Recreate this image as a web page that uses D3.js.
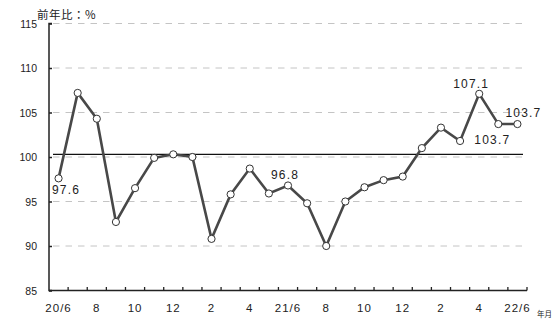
<!DOCTYPE html>
<html>
<head>
<meta charset="utf-8">
<script src="https://cdn.jsdelivr.net/npm/d3@7"></script>
<style>
  body { margin: 0; background: #fff; }
  svg { display: block; font-family: "Liberation Sans", Arial, sans-serif; }
</style>
</head>
<body>
<svg id="chart" width="556" height="319"></svg>
<script>
// monthly year-on-year ratio, 2020/6 .. 2022/6
const months = [
  '20/6', '20/7', '20/8', '20/9', '20/10', '20/11', '20/12',
  '21/1', '21/2', '21/3', '21/4', '21/5', '21/6', '21/7', '21/8',
  '21/9', '21/10', '21/11', '21/12', '22/1', '22/2', '22/3', '22/4',
  '22/5', '22/6',
];
const ratio = [
  97.6, 107.2, 104.3, 92.7, 96.5, 99.9, 100.3,
  100.0, 90.8, 95.8, 98.7, 95.9, 96.8, 94.8, 90.0,
  95.0, 96.6, 97.4, 97.8, 101.0, 103.3, 101.8, 107.1,
  103.7, 103.7,
];
const tickLabels = ['20/6', '8', '10', '12', '2', '4', '21/6', '8', '10', '12', '2', '4', '22/6'];
const yTicks = [85, 90, 95, 100, 105, 110, 115];
const gridValues = [90, 95, 100, 105, 110, 115];
const refValue = 100.3; // the solid 100 line sits a touch above the dashed grid
// annotated points: index, label offset
const callouts = [
  { i: 0, dx: 7.5, dy: 11.5 },
  { i: 12, dx: -3, dy: -10.5 },
  { i: 22, dx: -8, dy: -10.5 },
  { i: 23, dx: -6, dy: 15.5 },
  { i: 24, dx: 6, dy: -11.5 },
];

const svg = d3.select('#chart');
const margin = { left: 49, right: 29, top: 23.5, bottom: 28.5 };
const width = 556, height = 319;

const x = d3.scaleBand().domain(months).range([margin.left, width - margin.right]);
const y = d3.scaleLinear().domain([85, 115]).range([height - margin.bottom, margin.top]);
const cx = (m) => x(m) + x.bandwidth() / 2;

// dashed grid
svg.append('g')
  .selectAll('line')
  .data(gridValues)
  .join('line')
  .attr('x1', margin.left + 4)
  .attr('x2', width - margin.right - 2)
  .attr('y1', (d) => y(d))
  .attr('y2', (d) => y(d))
  .attr('stroke', '#c4c4c4')
  .attr('stroke-width', 1)
  .attr('stroke-dasharray', '6.5,6');

// reference line at 100
svg.append('line')
  .attr('x1', margin.left + 4)
  .attr('x2', width - margin.right - 4)
  .attr('y1', y(refValue))
  .attr('y2', y(refValue))
  .attr('stroke', '#111')
  .attr('stroke-width', 1.3);

// y axis
const yAxis = svg.append('g')
  .attr('transform', `translate(${margin.left},0)`)
  .call(d3.axisRight(y).tickValues(yTicks).tickSize(3).tickFormat(''));
yAxis.select('.domain').attr('d', `M3,${y(85)}H0V${y(115)}H3`).attr('stroke', '#222').attr('stroke-width', 1.5);
yAxis.selectAll('.tick line').attr('stroke', '#222').attr('stroke-width', 1.5);

svg.append('g')
  .selectAll('text')
  .data(yTicks)
  .join('text')
  .attr('x', 37)
  .attr('y', (d) => y(d) + 4)
  .attr('text-anchor', 'end')
  .attr('font-size', 10.5)
  .attr('fill', '#222')
  .text((d) => d);

// x axis: ticks at band edges
const edges = months.map((m) => x(m)).concat([x(months[months.length - 1]) + x.bandwidth()]);
const xg = svg.append('g');
xg.append('line')
  .attr('x1', margin.left)
  .attr('x2', width - margin.right)
  .attr('y1', y(85))
  .attr('y2', y(85))
  .attr('stroke', '#222')
  .attr('stroke-width', 1.5);
xg.selectAll('line.tick')
  .data(edges.slice(1))
  .join('line')
  .attr('class', 'tick')
  .attr('x1', (d) => d)
  .attr('x2', (d) => d)
  .attr('y1', y(85))
  .attr('y2', y(85) - 3.5)
  .attr('stroke', '#222')
  .attr('stroke-width', 1.3);

xg.selectAll('text')
  .data(tickLabels)
  .join('text')
  .attr('x', (d, i) => cx(months[i * 2]))
  .attr('y', 312)
  .attr('text-anchor', 'middle')
  .attr('font-size', 11.5)
  .attr('letter-spacing', 1)
  .attr('fill', '#222')
  .text((d) => d);

// unit labels
svg.append('text')
  .attr('x', 37)
  .attr('y', 18.5)
  .attr('font-family', '"Noto Sans CJK JP", sans-serif')
  .attr('font-size', 11.5)
  .attr('letter-spacing', 0.5)
  .attr('fill', '#222')
  .text('前年比：%');

svg.append('text')
  .attr('x', 537)
  .attr('y', 317)
  .attr('font-family', '"Noto Sans CJK JP", sans-serif')
  .attr('font-size', 7.5)
  .attr('fill', '#222')
  .text('年月');

// line
const line = d3.line().x((d, i) => cx(months[i])).y((d) => y(d));
svg.append('path')
  .datum(ratio)
  .attr('d', line)
  .attr('fill', 'none')
  .attr('stroke', '#484848')
  .attr('stroke-width', 2.6);

svg.append('g')
  .selectAll('circle')
  .data(ratio)
  .join('circle')
  .attr('cx', (d, i) => cx(months[i]))
  .attr('cy', (d) => y(d))
  .attr('r', 3.6)
  .attr('fill', '#fff')
  .attr('stroke', '#333')
  .attr('stroke-width', 1);

// callouts
svg.append('g')
  .selectAll('text')
  .data(callouts)
  .join('text')
  .attr('x', (c) => cx(months[c.i]) + c.dx)
  .attr('y', (c) => y(ratio[c.i]) + c.dy)
  .attr('dy', '0.35em')
  .attr('text-anchor', 'middle')
  .attr('font-size', 12)
  .attr('letter-spacing', 1.2)
  .attr('fill', '#222')
  .text((c) => ratio[c.i].toFixed(1));
</script>
</body>
</html>
